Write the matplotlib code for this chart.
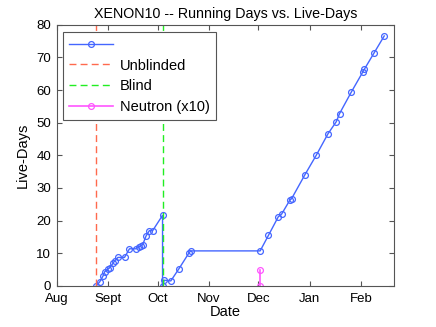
import numpy as np
import pandas as pd
import matplotlib
matplotlib.use("Agg")
import matplotlib.pyplot as plt

plt.rcParams['font.family'] = ['Liberation Sans', 'DejaVu Sans']

# live-days vs date
run_dates = ["2006-08-25", "2006-08-27", "2006-08-29", "2006-08-30", "2006-09-01",
             "2006-09-02", "2006-09-04", "2006-09-05", "2006-09-07", "2006-09-11",
             "2006-09-14", "2006-09-18", "2006-09-20", "2006-09-21", "2006-09-22",
             "2006-09-24", "2006-09-26", "2006-09-28", "2006-10-04",
             "2006-10-04", "2006-10-05", "2006-10-09", "2006-10-14", "2006-10-20",
             "2006-10-21", "2006-12-02",
             "2006-12-07", "2006-12-13", "2006-12-15", "2006-12-20", "2006-12-21",
             "2006-12-29", "2007-01-05", "2007-01-12", "2007-01-17", "2007-01-19",
             "2007-01-26", "2007-02-02", "2007-02-03", "2007-02-09", "2007-02-15"]
live_days = [0.0, 1.2, 3.0, 4.3, 5.1,
             5.5, 6.85, 7.6, 8.7, 8.7,
             11.35, 11.35, 12.0, 12.3, 12.6,
             15.25, 16.9, 16.9, 21.6,
             0.0, 1.7, 1.5, 5.3, 10.1,
             10.7, 10.7,
             15.45, 21.2, 22.0, 26.3, 26.7,
             34.0, 40.1, 46.6, 50.3, 52.8,
             59.3, 65.5, 66.4, 71.5, 76.6]

unblinded_date = "2006-08-25"
blind_date = "2006-10-04"
neutron_dates = ["2006-12-02", "2006-12-02"]
neutron_days = [0.0, 4.7]   # x10

x_start, x_end = "2006-08-01", "2007-02-21"
month_ticks = ["2006-08-01", "2006-09-01", "2006-10-01", "2006-11-01",
               "2006-12-01", "2007-01-01", "2007-02-01"]
month_labels = ["Aug", "Sept", "Oct", "Nov", "Dec", "Jan", "Feb"]

fig = plt.figure(figsize=(4.36, 3.27), dpi=100)
ax = fig.add_axes([0.130, 0.126, 0.774, 0.798])

d = pd.to_datetime(run_dates)
ax.plot(d, live_days, color='#4466ff', lw=1.0, marker='o', ms=4.2,
        mfc='none', mew=0.9, label=' ')
ax.plot(pd.to_datetime([unblinded_date] * 2), [0, 80], color='#ff6a4d',
        lw=1.0, ls=(0, (5, 3)), label='Unblinded')
ax.plot(pd.to_datetime([blind_date] * 2), [0, 80], color='#22ee22',
        lw=1.0, ls=(0, (5, 3)), label='Blind')
ax.plot(pd.to_datetime(neutron_dates), neutron_days, color='#ff55ff', lw=1.2,
        marker='o', ms=4.2, mfc='none', mew=0.9, label='Neutron (x10)')

ax.set_xlim(pd.to_datetime(x_start), pd.to_datetime(x_end))
ax.set_ylim(0, 80)
ax.set_xticks(pd.to_datetime(month_ticks))
ax.set_xticklabels(month_labels)
ax.set_yticks(np.arange(0, 81, 10))

for s in ax.spines.values():
    s.set_color('#555555')
    s.set_linewidth(0.8)
ax.tick_params(direction='in', top=True, right=True, length=3.5,
               color='#555555', labelsize=9.5)
ax.tick_params(axis='x', pad=5)
ax.tick_params(axis='y', pad=4)

ax.set_title("XENON10 -- Running Days vs. Live-Days", fontsize=10.3, pad=5)
ax.set_xlabel("Date", fontsize=10.5, labelpad=0)
ax.set_ylabel("Live-Days", fontsize=10.5, labelpad=5)

leg = ax.legend(loc='upper left', bbox_to_anchor=(0.019, 0.972), borderaxespad=0,
                fontsize=10.5, handlelength=3.0, handletextpad=0.5,
                labelspacing=0.45, fancybox=False, framealpha=1)
leg.get_frame().set_edgecolor('#555555')
leg.get_frame().set_linewidth(0.8)

fig.savefig("out.png", dpi=100)
